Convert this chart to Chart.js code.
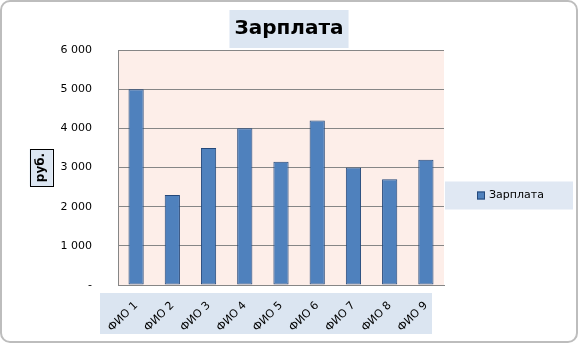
<!DOCTYPE html>
<html>
<head>
<meta charset="utf-8">
<script src="https://cdn.jsdelivr.net/npm/chart.js@4.4.1/dist/chart.umd.min.js"></script>
<style>
  html, body { margin: 0; padding: 0; background: #fff; }
</style>
</head>
<body>
<canvas id="salaryChart" width="578" height="343"></canvas>
<script>
// data
const names = ['ФИО 1', 'ФИО 2', 'ФИО 3', 'ФИО 4', 'ФИО 5', 'ФИО 6', 'ФИО 7', 'ФИО 8', 'ФИО 9'];
const salary = [5000, 2300, 3500, 4000, 3150, 4200, 3000, 2700, 3200];
const yTickLabels = ['-', '1 000', '2 000', '3 000', '4 000', '5 000', '6 000'];
const seriesName = 'Зарплата';
const yTitle = 'руб.';

const FONT = 'DejaVu Sans';
const barFill = '#4f81bd';
const barEdge = '#24487a';
const lightBlue = '#dce6f2';
const gridGray = '#868686';

Chart.defaults.font.family = FONT;
Chart.defaults.color = '#000';

const yTitlePad = { top: 34, bottom: 8 };

// backgrounds, boxes and the legend, the way Excel draws them
const decor = {
  id: 'decor',
  beforeDraw(chart) {
    const { ctx, chartArea: a, scales } = chart;
    const x = scales.x, y = scales.y;
    ctx.save();
    ctx.fillStyle = '#fff';
    ctx.fillRect(0, 0, chart.width, chart.height);
    ctx.strokeStyle = '#bdbdbd';
    ctx.lineWidth = 2;
    ctx.beginPath();
    ctx.roundRect(1, 1, chart.width - 2, chart.height - 2, 9);
    ctx.stroke();

    // plot area
    ctx.fillStyle = '#fdeee9';
    ctx.fillRect(a.left, a.top, a.right - a.left, a.bottom - a.top);

    // title box
    const t = chart.titleBlock;
    ctx.font = 'bold 20px ' + FONT;
    const tw = ctx.measureText(chart.options.plugins.title.text).width;
    const cx = (t.left + t.right) / 2;
    ctx.fillStyle = lightBlue;
    ctx.fillRect(cx - tw / 2 - 5, t.top + 2, tw + 10, t.bottom - t.top - 4);

    // category label band
    ctx.fillStyle = '#dbe5f1';
    ctx.fillRect(x.left - 18, a.bottom + 8, x.right - x.left + 6, 41);

    // y title box
    const tx = y.left + yTitlePad.top + 14.4 / 2;
    const cy = (a.top + a.bottom) / 2;
    ctx.fillStyle = lightBlue;
    ctx.fillRect(tx - 11.5, cy - 18.5, 23, 37);
    ctx.strokeStyle = '#000';
    ctx.lineWidth = 1;
    ctx.strokeRect(Math.round(tx - 11.5) + 0.5, Math.round(cy - 18.5) + 0.5, 23, 37);
    ctx.restore();
  },
  afterDraw(chart) {
    const { ctx, chartArea: a } = chart;
    const ds = chart.data.datasets[0];
    const cy = (a.top + a.bottom) / 2 + 28;
    ctx.save();
    ctx.fillStyle = '#e0e8f3';
    ctx.fillRect(a.right + 1, cy - 14, 128, 28);
    ctx.fillStyle = ds.backgroundColor;
    ctx.fillRect(a.right + 33, cy - 4, 8, 8);
    ctx.strokeStyle = ds.borderColor;
    ctx.lineWidth = 1;
    ctx.strokeRect(a.right + 33.5, cy - 3.5, 7, 7);
    ctx.fillStyle = '#000';
    ctx.font = '11px ' + FONT;
    ctx.textBaseline = 'middle';
    ctx.fillText(ds.label, a.right + 45, cy);
    ctx.restore();
  }
};

new Chart(document.getElementById('salaryChart'), {
  type: 'bar',
  data: {
    labels: names,
    datasets: [{
      label: seriesName,
      data: salary,
      backgroundColor: barFill,
      borderColor: barEdge,
      borderWidth: 1,
      borderSkipped: false,
      categoryPercentage: 1,
      barPercentage: 0.42
    }]
  },
  options: {
    responsive: false,
    animation: false,
    layout: { padding: { top: 8, left: 0, bottom: 4, right: 0 } },
    plugins: {
      legend: { display: false },
      tooltip: { enabled: false },
      title: {
        display: true,
        text: seriesName,
        font: { size: 20, weight: 'bold', lineHeight: 1.2 },
        padding: { top: 9, bottom: 9 },
        color: '#000'
      }
    },
    scales: {
      x: {
        grid: { display: false, drawTicks: false },
        border: { color: gridGray },
        ticks: {
          autoSkip: false,
          maxRotation: 45,
          minRotation: 45,
          padding: 14,
          font: { size: 11 }
        },
        afterFit: s => { s.height = 54; }
      },
      y: {
        min: 0,
        max: 6000,
        grid: { color: gridGray, drawTicks: false },
        border: { color: gridGray },
        ticks: {
          stepSize: 1000,
          padding: 26,
          font: { size: 11 },
          callback: (v, i) => yTickLabels[i]
        },
        title: {
          display: true,
          text: yTitle,
          font: { size: 12, weight: 'bold', lineHeight: 1.2 },
          padding: yTitlePad
        },
        afterFit: s => { s.width = 118; }
      },
      spacer: {
        type: 'linear',
        position: 'right',
        grid: { display: false },
        border: { display: false },
        ticks: { display: false },
        afterFit: s => { s.width = 134; }
      }
    }
  },
  plugins: [decor]
});
</script>
</body>
</html>
